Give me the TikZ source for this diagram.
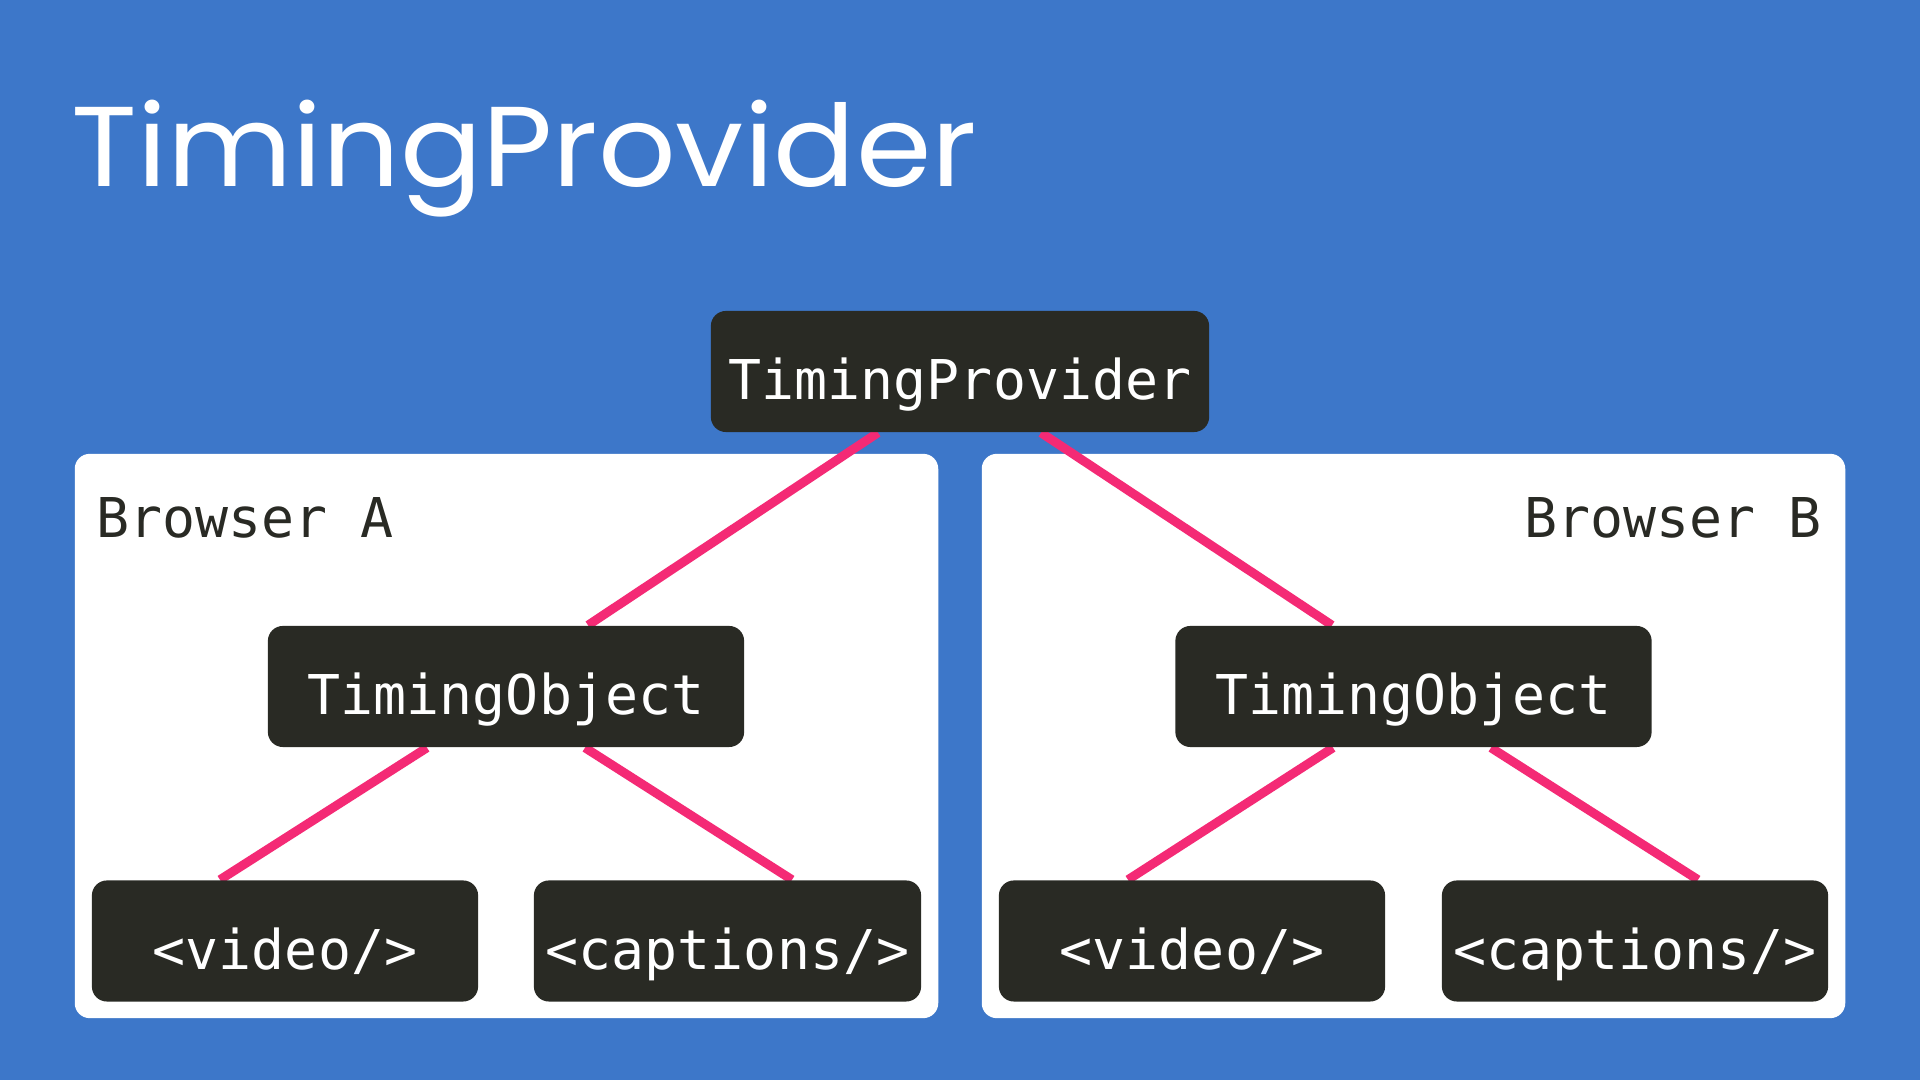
\documentclass[tikz,border=0pt]{standalone}
\usepackage{fontspec}
\setmainfont{Poppins}
\newfontfamily\monof{DejaVu Sans Mono}
\usetikzlibrary{calc}
\definecolor{bgblue}{HTML}{3D77C9}
\definecolor{darkbox}{HTML}{292A24}
\definecolor{linkpink}{HTML}{F42A75}
\pgfdeclarelayer{back}
\pgfdeclarelayer{mid}
\pgfsetlayers{back,mid,main}
\tikzset{
  panel/.style={fill=white, rounded corners=0.15cm, inner sep=0pt},
  darkbox/.style={fill=darkbox, rounded corners=0.15cm, inner sep=0pt,
    minimum height=1.21cm, text=white, font=\monof\fontsize{15.6pt}{18pt}\selectfont,
    text height=16.2pt, text depth=0pt},
  link/.style={draw=linkpink, line width=0.09cm},
  plabel/.style={inner sep=0pt, text=darkbox, font=\monof\fontsize{15.6pt}{18pt}\selectfont},
}
\begin{document}
\begin{tikzpicture}[x=0.01cm,y=-0.01cm]
\useasboundingbox (0,0) rectangle (1920,1080);
\begin{pgfonlayer}{back}
\fill[bgblue] (0,0) rectangle (1920,1080);
\node[panel, minimum width=8.63cm, minimum height=5.64cm] (pa) at (506.5,736) {};
\node[panel, minimum width=8.63cm, minimum height=5.64cm] (pb) at (1413.5,736) {};
\end{pgfonlayer}
\node[anchor=base west, inner sep=0pt, text=white, font=\fontsize{32.3pt}{40pt}\selectfont] (title) at (71,187) {\scalebox{1.07}[1]{TimingProvider}};
\node[plabel, anchor=base west] (la) at (96,538) {Browser A};
\node[plabel, anchor=base east] (lb) at (1822,538) {Browser B};
\node[darkbox, minimum width=4.98cm] (tp) at (960,371.5) {TimingProvider};
\node[darkbox, minimum width=4.76cm] (toa) at (506,686.5) {TimingObject};
\node[darkbox, minimum width=4.76cm] (tob) at (1413.5,686.5) {TimingObject};
\node[darkbox, minimum width=3.86cm] (va) at (285,941) {<video/>};
\node[darkbox, minimum width=3.87cm] (ca) at (727.5,941) {<captions/>};
\node[darkbox, minimum width=3.86cm] (vb) at (1192,941) {<video/>};
\node[darkbox, minimum width=3.86cm] (cb) at (1635,941) {<captions/>};
\begin{pgfonlayer}{mid}
\draw[link] ($(tp.south)+(-82,0)$) -- ($(toa.north)+(82,0)$);
\draw[link] ($(tp.south)+(81,0)$) -- ($(tob.north)+(-81.5,0)$);
\draw[link] ($(toa.south)+(-79,0)$) -- ($(va.north)+(-65,0)$);
\draw[link] ($(toa.south)+(79,0)$) -- ($(ca.north)+(64.5,0)$);
\draw[link] ($(tob.south)+(-80.5,0)$) -- ($(vb.north)+(-64,0)$);
\draw[link] ($(tob.south)+(77.5,0)$) -- ($(cb.north)+(63,0)$);
\end{pgfonlayer}
\end{tikzpicture}
\end{document}
